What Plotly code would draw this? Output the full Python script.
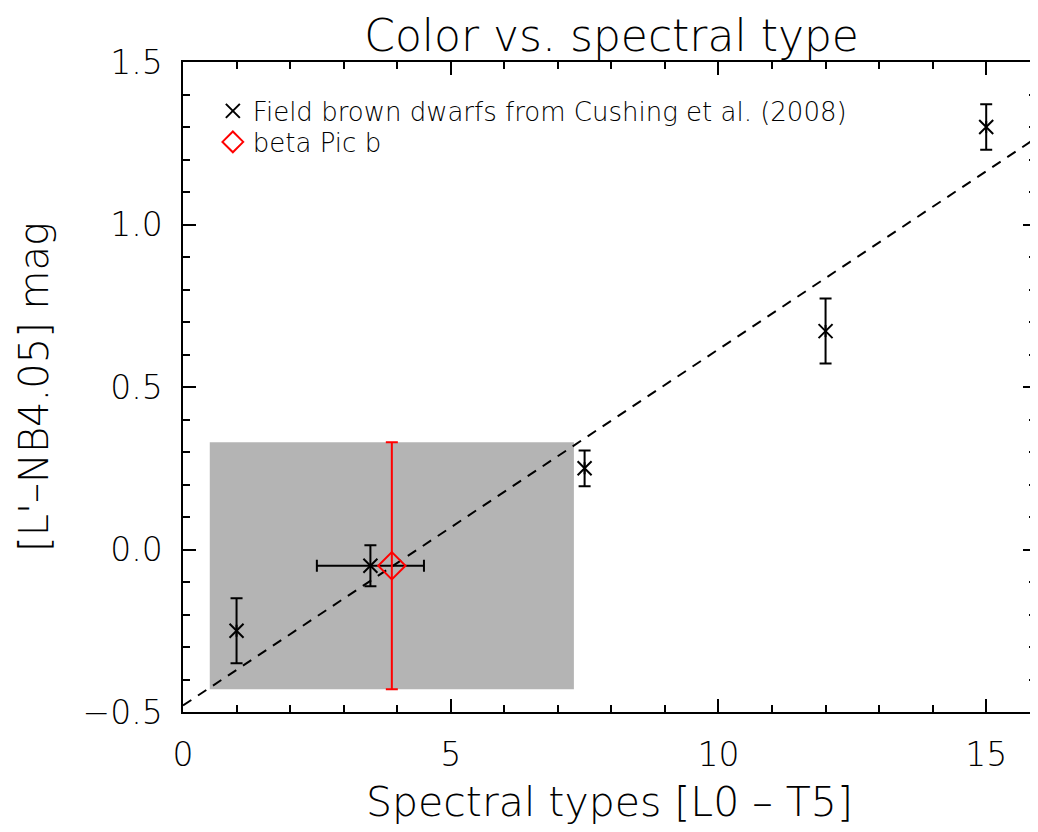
import plotly.graph_objects as go

# field brown dwarfs (Cushing et al. 2008)
field_spt = [1.0, 3.5, 7.5, 12.0, 15.0]
field_spt_err = [0.0, 1.0, 0.0, 0.0, 0.0]
field_color = [-0.25, -0.05, 0.25, 0.672, 1.30]
field_color_err = [0.10, 0.063, 0.055, 0.10, 0.07]

# beta Pic b
bpic_spt = [3.9]
bpic_color = [-0.05]
bpic_color_err = [0.38]

# linear fit  color = a + b * spt
fit_a = -0.48
fit_b = 0.1096
fit_x = [0.0, 16.0]

# allowed spectral-type range for beta Pic b
box_x = [0.5, 7.3]
box_y = [-0.43, 0.33]

FONT = "DejaVu Sans"
W = 200  # thin, close to the IDL vector font

fig = go.Figure()

fig.add_shape(
    type="rect", xref="x", yref="y",
    x0=box_x[0], x1=box_x[1], y0=box_y[0], y1=box_y[1],
    fillcolor="#b4b4b4", line=dict(width=0), layer="below",
)

fig.add_trace(go.Scatter(
    x=fit_x, y=[fit_a + fit_b * x for x in fit_x],
    mode="lines", line=dict(color="black", width=2, dash="10px,8px"),
    showlegend=False, hoverinfo="skip",
))

fig.add_trace(go.Scatter(
    x=field_spt, y=field_color,
    mode="markers",
    marker=dict(symbol="x-thin", size=14, line=dict(color="black", width=2), color="black"),
    error_y=dict(type="data", array=field_color_err, color="black", thickness=2, width=6),
    error_x=dict(type="data", array=field_spt_err, color="black", thickness=2, width=6),
    name="Field brown dwarfs from Cushing et al. (2008)",
    legend="legend",
))

fig.add_trace(go.Scatter(
    x=bpic_spt, y=bpic_color,
    mode="markers",
    marker=dict(symbol="diamond-open", size=21, color="red", line=dict(color="red", width=2)),
    error_y=dict(type="data", array=bpic_color_err, color="red", thickness=2, width=6),
    name="beta Pic b",
    legend="legend2",
))

axis_common = dict(
    showgrid=False, zeroline=False, showline=True, linecolor="black", linewidth=1.5,
    mirror="allticks", ticks="inside", ticklen=13, tickwidth=1.5, tickcolor="black",
    tickfont=dict(family=FONT, size=33, color="black", weight=W),
)

fig.update_xaxes(
    range=[0, 15.93], dtick=5, tick0=0, ticklabelstandoff=13,
    minor=dict(dtick=1, ticks="inside", ticklen=7, tickcolor="black", tickwidth=1.5),
    title=dict(text="Spectral types [L0 – T5]", font=dict(family=FONT, size=41, color="black", weight=W), standoff=14),
    **axis_common,
)
fig.update_yaxes(
    range=[-0.5, 1.5], dtick=0.5, tick0=0, tickformat=".1f", ticklabelstandoff=12,
    minor=dict(dtick=0.1, ticks="inside", ticklen=7, tickcolor="black", tickwidth=1.5),
    title=dict(text="[L'–NB4.05] mag", font=dict(family=FONT, size=40, color="black", weight=W), standoff=22),
    **axis_common,
)

legend_style = dict(xanchor="left", yanchor="middle", bgcolor="rgba(0,0,0,0)",
                    font=dict(family=FONT, size=26, color="black", weight=W), itemwidth=30)

fig.update_layout(
    width=1030, height=824,
    margin=dict(l=175, r=0, t=54, b=120),
    paper_bgcolor="white", plot_bgcolor="white",
    title=dict(text="Color vs. spectral type", x=0.586, xanchor="center", y=0.966, yanchor="middle",
               font=dict(family=FONT, size=44, color="black", weight=W)),
    legend=dict(x=0.035, y=1 - (111 - 62) / 650, **legend_style),
    legend2=dict(x=0.035, y=1 - (142 - 62) / 650, **legend_style),
    showlegend=True,
)

fig.write_html("out.html")
